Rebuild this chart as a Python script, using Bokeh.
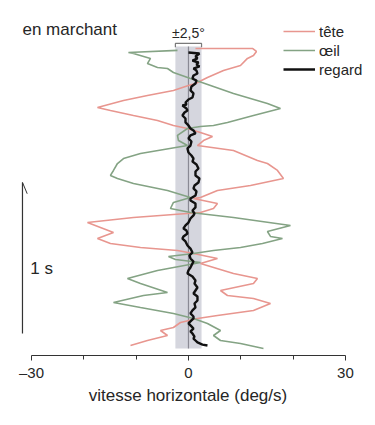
from bokeh.plotting import figure
from bokeh.models import Range1d, FixedTicker, Label, Legend, LegendItem
from bokeh.embed import file_html
from bokeh.resources import INLINE

# ---------------- data ----------------
# tête (head velocity, deg/s) vs time (s, 0 = end of record at bottom)
tete_v = [1.34, 12.23, 12.99, 12.42, 11.27, 9.94, 6.69, 3.63, 1.34, 0.00, -2.87, -7.84, -12.42,
          -17.39, -14.91, -10.51, -5.92, -2.87, -0.19, 2.87, 4.59, 2.87, 1.72, 8.60, 13.18, 15.09,
          17.01, 18.15, 11.85, 5.54, 2.29, 0.96, 5.54, 4.78, 2.29, -10.51, -19.30, -16.82, -14.33,
          -17.39, -14.91, -9.17, -2.10, 0.96, 5.54, 2.29, 8.60, 13.18, 12.42, 6.12, 7.45, 12.42,
          15.67, 12.42, 5.54, 1.72, -1.53, -2.87, -5.35, -4.01, -7.84, -11.08]
tete_t = [1.987, 1.987, 1.967, 1.940, 1.921, 1.874, 1.841, 1.795, 1.755, 1.742, 1.709, 1.675, 1.642,
          1.596, 1.576, 1.543, 1.510, 1.477, 1.457, 1.424, 1.404, 1.377, 1.344, 1.311, 1.245, 1.225,
          1.179, 1.126, 1.079, 1.046, 1.000, 0.993, 0.960, 0.927, 0.901, 0.868, 0.834, 0.801, 0.768,
          0.728, 0.695, 0.669, 0.649, 0.629, 0.596, 0.563, 0.497, 0.464, 0.430, 0.384, 0.351, 0.331,
          0.298, 0.252, 0.219, 0.199, 0.172, 0.139, 0.119, 0.086, 0.053, 0.020]

# œil (eye velocity)
oeil_v = [-2.10, -11.47, -10.51, -7.26, -7.84, -5.92, -4.01, -2.87, 0.38, 8.60, 15.09, 17.58, 12.42,
          7.45, 4.78, 2.29, -0.19, -2.10, -1.91, -0.19, -9.17, -12.42, -13.57, -14.33, -14.91, -13.57,
          -10.51, -4.01, 0.38, -2.87, -3.44, 0.38, 8.60, 19.49, 15.09, 15.67, 17.96, 14.14, 9.94, 4.78,
          0.96, -3.82, -2.48, 2.29, -5.92, -11.66, -9.17, -4.01, -8.60, -14.33, -9.17, -2.87, 0.96,
          3.63, 6.12, 4.78, 6.12, 9.94, 14.33]
oeil_t = [1.974, 1.960, 1.954, 1.921, 1.887, 1.861, 1.854, 1.828, 1.788, 1.689, 1.623, 1.589, 1.543,
          1.497, 1.477, 1.470, 1.457, 1.411, 1.377, 1.344, 1.291, 1.258, 1.225, 1.179, 1.146, 1.126,
          1.093, 1.046, 1.000, 0.967, 0.927, 0.901, 0.868, 0.815, 0.775, 0.742, 0.728, 0.695, 0.669,
          0.649, 0.629, 0.609, 0.589, 0.570, 0.517, 0.464, 0.430, 0.371, 0.351, 0.305, 0.272, 0.232,
          0.199, 0.166, 0.119, 0.086, 0.053, 0.033, 0.000]

# regard (gaze velocity)
regard_v = [0.00, 2.10, 1.34, 1.72, 0.76, 1.91, 1.53, 2.10, 0.96, 1.53, 1.72, 0.96, 0.76, 1.53, 1.34,
            0.57, 0.38, 0.96, 0.76, 0.00, -0.57, -0.38, -1.15, -0.38, -0.19, -0.76, -1.15, -0.57,
            -0.57, 0.00, 0.38, 0.96, 1.34, 0.38, 0.00, 0.57, 0.38, -0.19, 0.00, 0.57, 0.96, 0.76,
            1.53, 1.91, 1.34, 1.34, 2.10, 1.91, 1.15, 0.96, 1.53, 1.34, 0.38, 0.38, 1.34, 1.34, 0.76,
            1.15, 0.96, 0.38, 0.00, -0.57, -0.96, -0.38, -0.19, -0.96, -1.15, -0.57, -0.19, 0.38,
            0.76, 0.19, 0.38, 0.96, 0.76, 0.38, 0.00, -0.19, 0.76, 1.34, 1.15, 1.72, 1.34, 0.96,
            1.72, 1.72, 1.15, 1.34, 0.76, 0.38, 0.96, 0.96, 0.38, 0.00, 0.57, 0.96, 0.38, 0.76, 1.15,
            0.96, 1.34, 1.72, 2.68, 3.63]
regard_t = [1.960, 1.954, 1.934, 1.921, 1.907, 1.894, 1.881, 1.868, 1.854, 1.841, 1.821, 1.808, 1.788,
            1.775, 1.755, 1.735, 1.709, 1.689, 1.662, 1.649, 1.629, 1.616, 1.609, 1.589, 1.576, 1.563,
            1.543, 1.523, 1.497, 1.477, 1.457, 1.444, 1.424, 1.411, 1.391, 1.371, 1.344, 1.325, 1.298,
            1.278, 1.258, 1.238, 1.219, 1.192, 1.172, 1.146, 1.126, 1.099, 1.079, 1.060, 1.040, 1.013,
            0.993, 0.980, 0.960, 0.934, 0.914, 0.894, 0.881, 0.861, 0.834, 0.815, 0.795, 0.781, 0.762,
            0.742, 0.728, 0.709, 0.682, 0.662, 0.636, 0.616, 0.596, 0.576, 0.563, 0.536, 0.517, 0.497,
            0.477, 0.450, 0.430, 0.404, 0.384, 0.364, 0.344, 0.318, 0.298, 0.272, 0.252, 0.232, 0.212,
            0.199, 0.179, 0.166, 0.146, 0.132, 0.113, 0.099, 0.079, 0.066, 0.053, 0.040, 0.026, 0.020]

bande = 2.5          # ±2,5° tolerance band (deg/s)
duree = 2.0          # duration of the record (s)
barre = [0.1, 1.1]   # 1 s time scale bar
x_ticks = [-30, 0, 30]
x_minor = [-20, -10, 10, 20]

FONT = "Liberation Sans"
TXT = "#262626"
PINK = "#e8968f"
GREEN = "#84a384"

# ---------------- figure ----------------
p = figure(width=375, height=425, output_backend="svg", toolbar_location=None,
           x_range=Range1d(-35.92, 35.74), y_range=Range1d(-0.0464, 2.3046),
           y_axis_location=None, min_border_left=0, min_border_right=0,
           min_border_top=0, min_border_bottom=70)
p.grid.visible = False
p.outline_line_color = None
p.background_fill_color = "white"
p.border_fill_color = "white"

# gray band and center line
p.quad(left=[-bande], right=[bande], bottom=[0], top=[duree],
       fill_color="#d5d6de", line_color=None)
p.line([0, 0], [0, duree], line_color="#8a8a94", line_width=1.2)

# bracket above band
brk = duree + 0.02
p.line([-bande, -bande, bande, bande], [brk - 0.025, brk, brk, brk - 0.025],
       line_color="#7a7a7a", line_width=1.2)
p.add_layout(Label(x=0, y=brk + 0.07, text="±2,5°", text_align="center",
                   text_baseline="middle", text_font=FONT, text_font_size="14px",
                   text_color=TXT))

r_tete = p.line(tete_v, tete_t, line_color=PINK, line_width=1.6)
r_oeil = p.line(oeil_v, oeil_t, line_color=GREEN, line_width=1.6)
r_regard = p.line(regard_v, regard_t, line_color="#111111", line_width=2.4)

# time scale bar
xb = -31.72
p.line([xb, xb], barre, line_color="#333333", line_width=1.2)
p.line([xb, xb + 0.9], [barre[1], barre[1] - 0.075], line_color="#333333", line_width=1.0)
p.add_layout(Label(x=xb + 1.5, y=0.53, text="1 s", text_baseline="middle",
                   text_font=FONT, text_font_size="17px", text_color=TXT))

# title
p.add_layout(Label(x=xb, y=2.113, text="en marchant", text_baseline="middle",
                   text_font=FONT, text_font_size="17px", text_color=TXT))

# legend
legend = Legend(items=[LegendItem(label="tête", renderers=[r_tete]),
                       LegendItem(label="œil", renderers=[r_oeil]),
                       LegendItem(label="regard", renderers=[r_regard])],
                location=(283, 277), glyph_width=32, glyph_height=18, label_height=18,
                spacing=1, padding=0, margin=0, label_standoff=4,
                label_text_font=FONT, label_text_font_size="15px", label_text_color=TXT,
                border_line_color=None, background_fill_alpha=0)
p.add_layout(legend)

# x axis
ax = p.xaxis[0]
ax.bounds = (-30, 30)
ax.ticker = FixedTicker(ticks=x_ticks, minor_ticks=x_minor)
ax.major_label_overrides = {-30: "–30"}
ax.axis_line_color = "#333333"
ax.axis_line_width = 1.2
ax.major_tick_line_color = "#333333"
ax.minor_tick_line_color = "#333333"
ax.major_tick_in = 0
ax.major_tick_out = 5
ax.minor_tick_in = 0
ax.minor_tick_out = 4
ax.major_label_standoff = 3
ax.major_label_text_font = FONT
ax.major_label_text_font_size = "15px"
ax.major_label_text_color = TXT
ax.axis_label = "vitesse horizontale (deg/s)"
ax.axis_label_text_font = FONT
ax.axis_label_text_font_size = "17px"
ax.axis_label_text_font_style = "normal"
ax.axis_label_text_color = TXT
ax.axis_label_standoff = 2

open("out.html", "w").write(file_html(p, INLINE))
